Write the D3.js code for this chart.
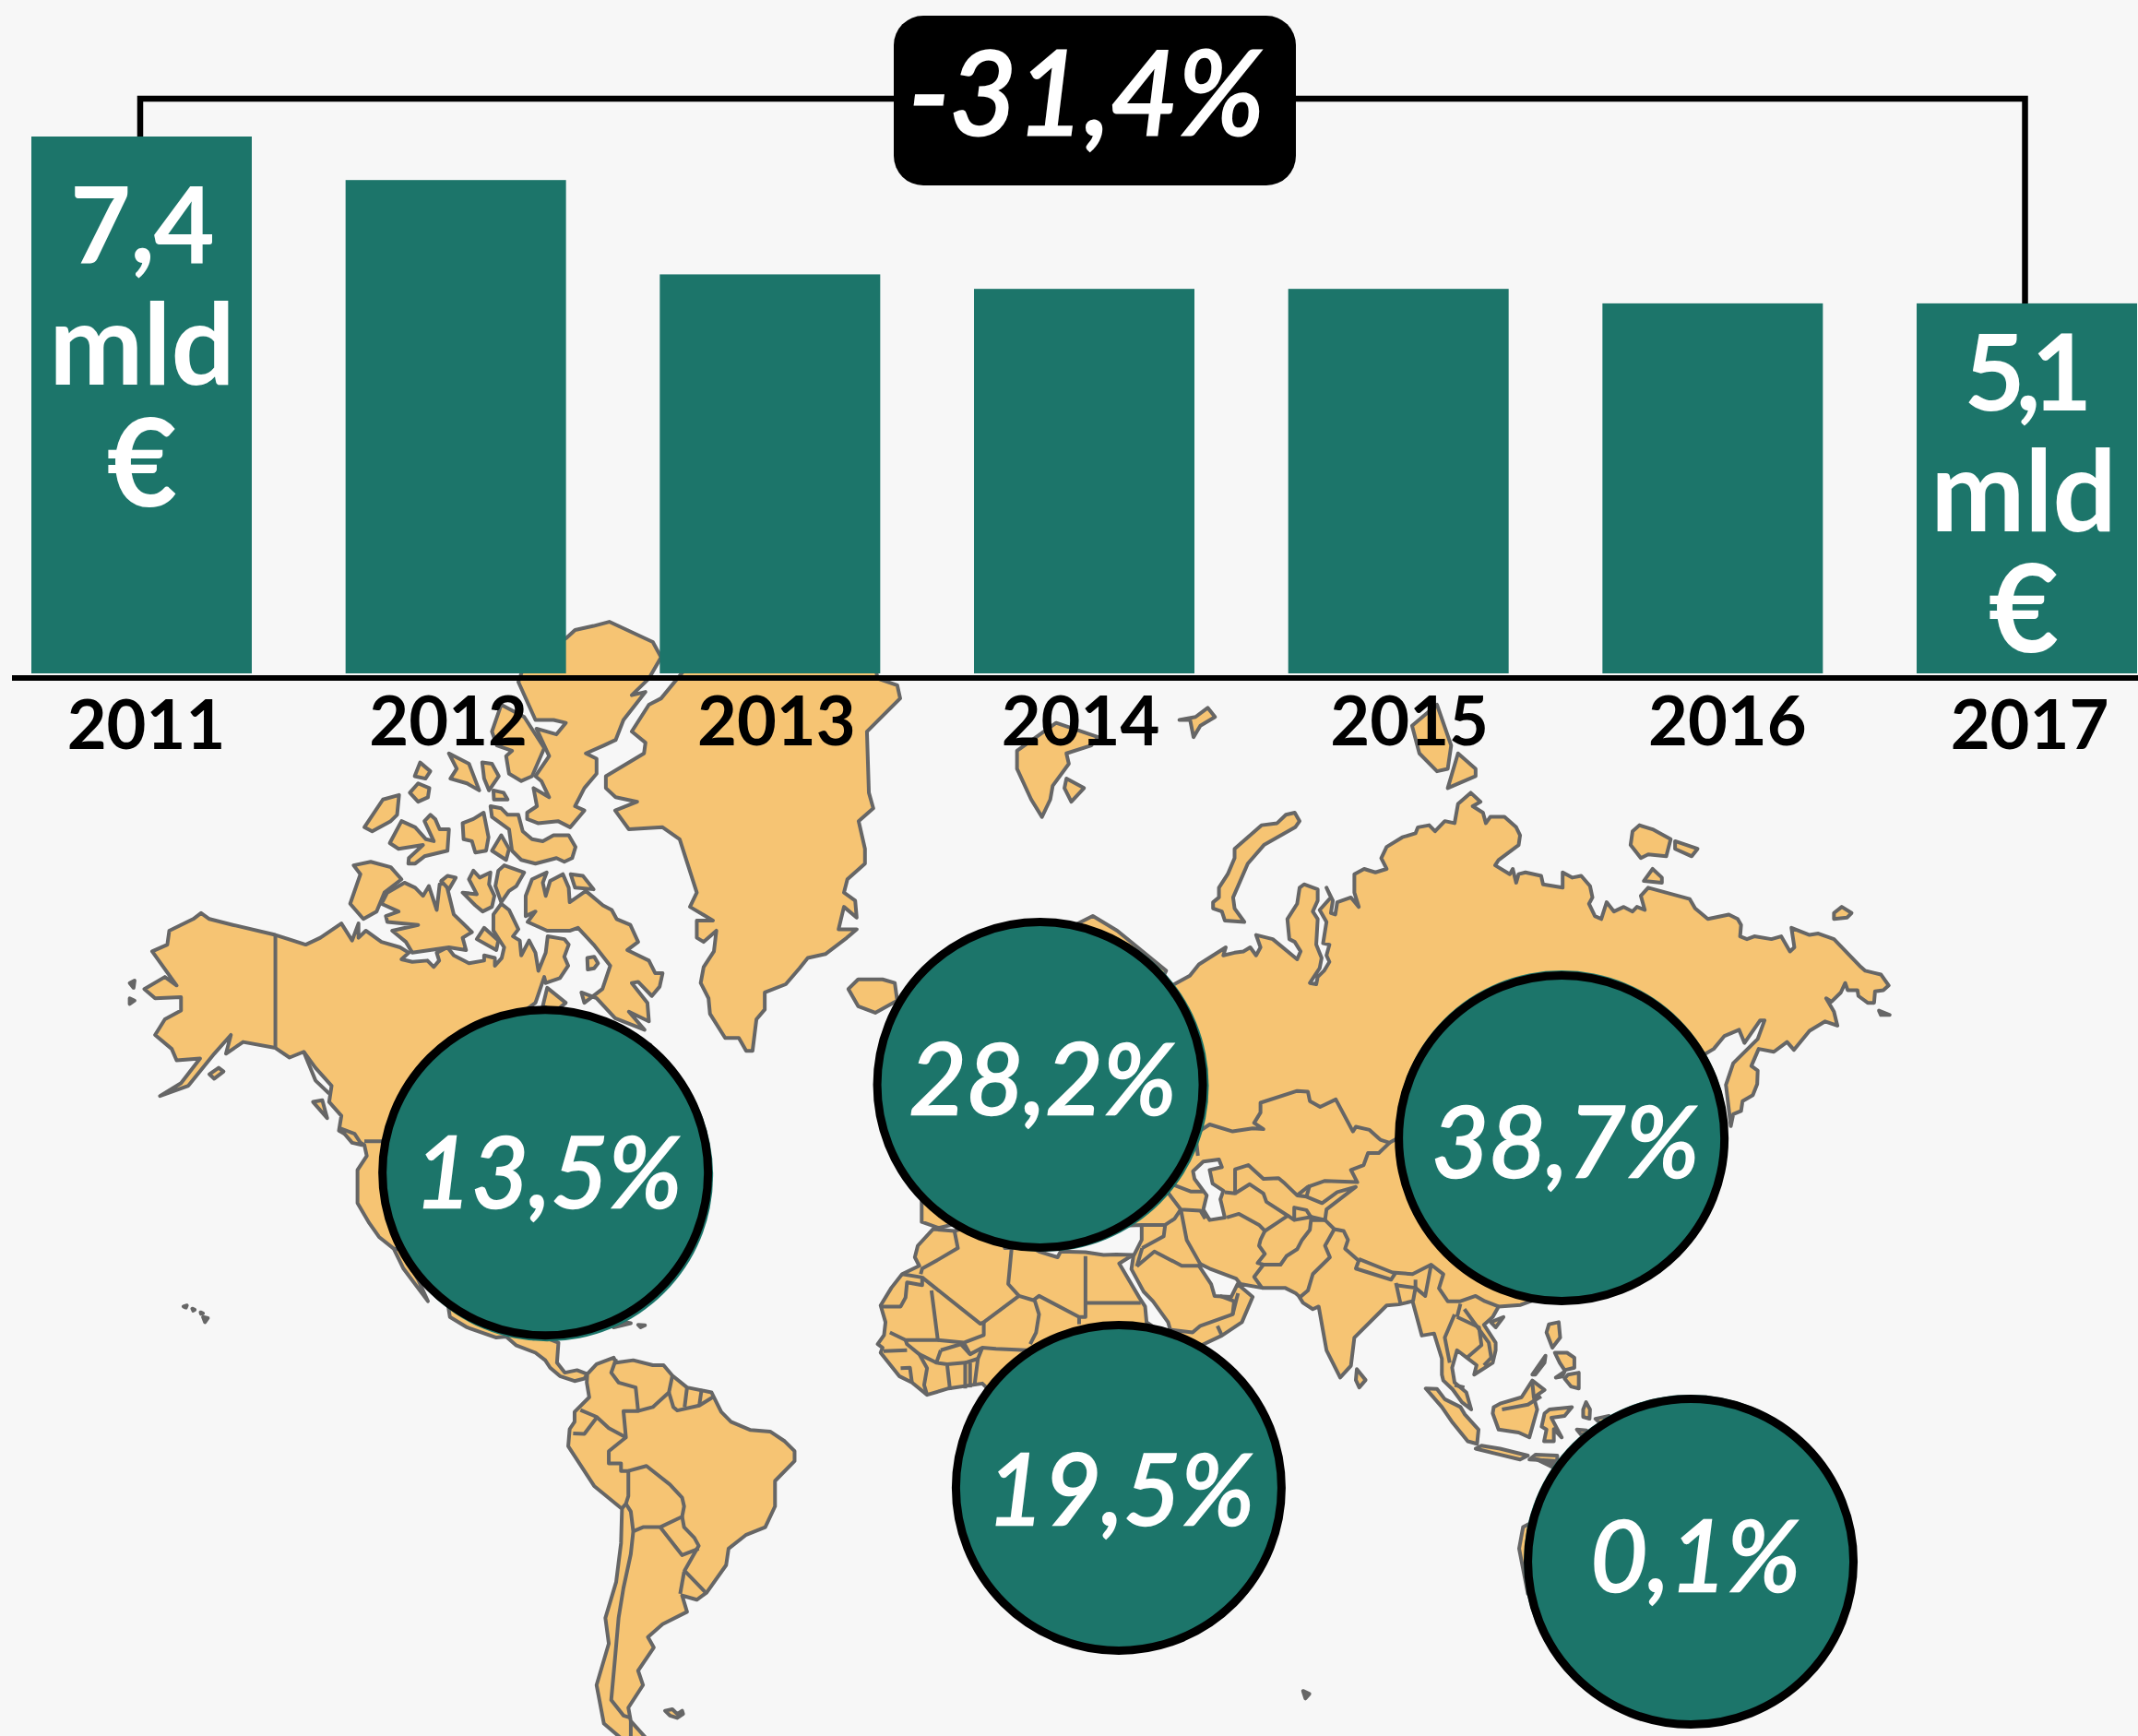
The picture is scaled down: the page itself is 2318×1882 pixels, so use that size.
<!DOCTYPE html>
<html><head><meta charset="utf-8">
<script src="https://cdnjs.cloudflare.com/ajax/libs/d3/7.8.5/d3.min.js"></script>
<style>html,body{margin:0;padding:0;background:#f7f7f7;overflow:hidden}svg{display:block}text{font-family:Lato,sans-serif}</style>
</head><body><svg id="c" width="2318" height="1882"></svg>
<script>
// ---------- chart data ----------
const years=["2011","2012","2013","2014","2015","2016","2017"];
const spending=[7.4,6.8,5.5,5.3,5.3,5.1,5.1];
const firstLabel=["7,4","mld","€"];
const lastLabel=["5,1","mld","€"];
const changeLabel="-31,4%";
const regionShares=["13,5%","28,2%","38,7%","19,5%","0,1%"];
const regionLon=[-86,15.2,121.9,31.3,148.3];
const regionLat=[44.6,56,49.4,-14.36,-28.4];

// ---------- map data: lon/lat ----------
const northAmerica=[[-141.2,69.7],[-149.9,70.4],[-154.7,70.8],[-156.4,71.2],[-158,70.8],[-162.9,70],[-163.3,69],[-166.4,68.5],[-161.4,65.8],[-163.8,66.5],[-168,65.5],[-165.8,64.7],[-160.5,64.8],[-160.5,63.6],[-163.8,62.8],[-165.8,61.3],[-162.4,59.9],[-161.4,58.7],[-156.6,58.9],[-160.5,56.2],[-164.8,54.7],[-159,55.9],[-153.7,59.4],[-150.3,61.3],[-151.3,59.4],[-147.8,60.6],[-141.2,60],[-138.3,59],[-135.4,59.6],[-133,57.9],[-129.7,55.9],[-130.2,54],[-127.7,52.3],[-128.2,50.4],[-123,48.5],[-122.5,47],[-124.4,45],[-124.4,40],[-122,36.8],[-120,34.5],[-117,32.5],[-115,29],[-110,23],[-112,27],[-114.7,31],[-112.5,29],[-109.5,26],[-106,23],[-105.5,20],[-102,18],[-96,16],[-94,16.2],[-92,14.5],[-88,13],[-86,11.5],[-85,10],[-83,8.3],[-80,7.3],[-78,7.8],[-77.4,8.7],[-79.5,9.5],[-82,9],[-83.6,11],[-83.3,15],[-86,16],[-88.5,15.8],[-88,18.5],[-87,21.5],[-90.3,21],[-91,18.7],[-94.5,18.2],[-97.5,21],[-97.5,26],[-97,28],[-94,29.5],[-90,29.2],[-85,29.7],[-83,29],[-81.5,25.5],[-80,25.5],[-81,30.5],[-79,33.2],[-76,35],[-76,37],[-74,40],[-70.5,41.7],[-70.5,43.5],[-67,44.8],[-66,43.6],[-61,45.5],[-64,46.5],[-65,49],[-70,47],[-64,49.5],[-60,50.2],[-56,52],[-60,55.5],[-62,57.5],[-64.5,60.3],[-70,58.8],[-73,62.3],[-78,62.4],[-77.5,60],[-76.5,57],[-79,54.5],[-79,51.5],[-82,52.8],[-82.5,55.1],[-88,56.5],[-92.5,57],[-94.5,59],[-94,61],[-90.5,63.5],[-88,64.3],[-86.2,66.5],[-85.9,66],[-83,66.4],[-81.3,67.4],[-82.1,68.1],[-81.2,69],[-82.1,69.4],[-85.5,69.6],[-85.9,68.4],[-87.4,67],[-88,68.4],[-89.3,69.3],[-90.9,68.2],[-91.2,69.3],[-92.6,69.6],[-91.5,70.1],[-93.4,71.4],[-95,71.8],[-96.6,71.1],[-96.6,70],[-94.4,68.8],[-94.9,68],[-96.3,67.4],[-96.3,68],[-98.5,68.2],[-98.5,67.8],[-101.6,67.6],[-104.7,68.2],[-106,68.8],[-108.2,68.4],[-107.7,67.8],[-108.8,67.3],[-110.1,67.8],[-113.2,67.7],[-115.4,67.9],[-113.9,68.4],[-115.7,68.8],[-119.5,69.2],[-122.7,70],[-124.2,69.5],[-124.2,70.5],[-125.5,69.3],[-127.7,70.5],[-132,69.5],[-135,69]];
const greenland=[[-62.3,81.2],[-64.8,81],[-68.3,80.1],[-65.5,79.7],[-65.8,79.3],[-73.6,78.4],[-73.6,77.9],[-71.6,77.5],[-67.2,77.3],[-71.7,76.9],[-68.9,76],[-62,76.1],[-58.5,75.5],[-55,72.5],[-56.4,71.6],[-51.7,70.7],[-55,70.7],[-55,69.5],[-53.6,69.2],[-51,70],[-51.5,68.5],[-53.6,67.3],[-54.2,66],[-52.6,64.7],[-52.3,63.3],[-49.2,61],[-46.4,61],[-44.9,59.7],[-43.6,59.7],[-42.8,62.8],[-41.1,63.7],[-41.1,65.2],[-36.8,65.9],[-34,67.2],[-32.3,68],[-28.7,68.3],[-24.3,69.5],[-22.3,70.1],[-26,70.1],[-24.9,71.6],[-22.3,70.9],[-22.6,72],[-24.9,72.5],[-24.2,73.3],[-20.6,74.2],[-20.6,75],[-21.9,76.4],[-18.9,77],[-19.8,77.7],[-20.2,80.1],[-13.4,81.2],[-14,81.6],[-18,81.8],[-20,83],[-28,83.4],[-45,82.5],[-56,82.3]];
const southAmerica=[[-77.4,8.7],[-75.5,10.7],[-72,12],[-71.5,11],[-68,11.5],[-64,10.5],[-61.8,10.5],[-60,8.4],[-57,6],[-52,5],[-50,1],[-48,-1],[-44,-2.7],[-40,-3],[-37,-5],[-35,-7],[-35,-9],[-39,-13],[-39,-18],[-41,-22],[-45,-23.5],[-48.5,-26],[-49,-29],[-53,-33.8],[-55,-35],[-58,-34.3],[-57,-37],[-62,-39],[-65,-41],[-63.8,-42.6],[-67,-46],[-66,-48],[-69,-51],[-68.5,-52.7],[-65,-55],[-69,-55.5],[-74,-53],[-75.5,-48],[-73,-42],[-73.7,-38],[-71.5,-32],[-70.5,-25],[-70.3,-18.5],[-76,-14],[-81.3,-6],[-81,-2.5],[-80,-1],[-80,1],[-77,4],[-77.5,7]];
const africa=[[-6.7,35.8],[-2.3,35.5],[3,36.8],[10,37.2],[10.5,34],[15,32],[18.8,31],[19.4,32],[24.5,31.9],[28.2,31.4],[30.8,31.5],[34.2,31.4],[31.4,29.9],[35.5,23.7],[36.7,22],[37,19],[38.5,18],[43,12.5],[44,10.5],[51,12],[47.5,4],[39.5,-4],[40.5,-15],[35,-20],[35.5,-24],[32.5,-26],[30,-31],[25.5,-34],[20,-34.8],[18,-32],[14.5,-22],[12,-16],[13.5,-10],[12,-5],[9,-1],[9.5,4],[6,4.3],[3.4,6.8],[-3.5,5.8],[-7.9,4.5],[-11,7],[-13.6,8.3],[-17.4,13],[-17,14],[-18,14.7],[-16.7,16.5],[-16.4,19],[-17.4,22.2],[-15.2,25.5],[-13,28],[-9.5,29.5],[-10.4,31],[-9.8,33]];
const eurasia=[[5,60],[5,62],[10,64],[14,68],[20,70],[26,71],[31,70],[41,67],[40,66.2],[35,66.5],[33,66.7],[38,64.5],[40,65.3],[45.85,66.6],[47.7,67.5],[53.2,68.8],[52.7,68.2],[55,68.4],[56.8,68.5],[58.2,68.8],[59.4,68.2],[60.3,68.8],[59.4,69.7],[62.8,69.4],[67.8,67.9],[68.5,68.5],[67.3,69.2],[66.2,69.4],[65.8,70.8],[67.8,71.8],[68.3,72.8],[69.2,73],[72,72.7],[72,72],[71,71.3],[72,70.8],[71.7,69],[72.8,68],[72.4,67.2],[70.4,66],[71.7,65.9],[72,66.5],[73.3,67],[74.4,67.7],[73.8,68.2],[74.4,69],[73.1,69.1],[73.8,70.6],[72.4,71.4],[74.7,72.2],[73.8,72.8],[75.1,72],[74.7,71.2],[75.6,71.1],[76,71.9],[78.8,72.2],[80.4,71.6],[79.5,72.5],[79.5,73.6],[81.5,73.9],[83.8,73.7],[86.1,73.9],[85,74.5],[86.1,75.1],[89.3,75.6],[92,75.8],[92.5,76.1],[94.8,76.2],[96,75.9],[98,76.4],[100,76.3],[100.7,77.2],[103.3,77.7],[105.3,77.3],[103.7,77.1],[105.8,76.8],[106.4,76.3],[107.3,76.6],[110.2,76.6],[112.6,76.1],[113.4,75.7],[113.1,75.2],[109,74.4],[108.3,74.1],[111.3,73.6],[111.9,73.9],[112.6,73.1],[113.1,73.6],[114.5,73.7],[117.7,73.5],[118.1,73],[122.1,72.8],[122.1,73.7],[124.1,73.4],[125.9,73.5],[127.7,72.9],[128.2,72.2],[127.5,71.8],[128.7,71],[130,70.8],[131.1,71.9],[132.6,71.3],[134.6,71.6],[136.4,71.3],[137.3,71.6],[138.9,71.4],[138.1,72.3],[139.6,72.8],[148.1,72.1],[149.2,71.5],[151.8,70.8],[156.1,71.1],[157.9,70.8],[158.6,70.4],[158.4,69.6],[159.8,69.4],[161.3,69.6],[164.8,69.4],[166.8,69.6],[168.6,68.5],[169.5,68.8],[168.9,70.2],[172.6,69.7],[174.4,69.8],[177.6,69.4],[183.1,67.3],[184,67],[187.2,66.7],[188.8,65.8],[187.7,65.4],[186,65.3],[185.8,64.3],[184.5,64.3],[182.6,64.9],[182.4,65.4],[180.4,65.4],[179.9,66],[179,65.2],[177.1,64.4],[176,64.7],[177.6,63.5],[178.3,62.2],[175.8,62.6],[172.6,61.7],[169.4,59.8],[168,60.6],[165.3,59.6],[162.2,59.9],[160.7,58.1],[162,57.6],[161.9,56.1],[161,54.8],[158.9,54.1],[158.6,52.9],[157,52.5],[156.5,51],[155.5,56],[157,58.4],[162,60.9],[163.4,62.7],[162.5,62.7],[159.3,60.5],[158.2,61.8],[155.2,61.2],[153,59.9],[150,59],[142,59.2],[135,54.7],[141,53],[140,48],[135,43.5],[130.5,42.5],[127.5,39.7],[129.5,36],[126.5,34.5],[126,37.5],[124.5,40],[121,39],[122,40.7],[118,39],[119,37.3],[122.5,37],[119,35],[122,31],[121.5,28],[117,23.5],[113.5,22.3],[109,22],[107.8,20],[106,18.5],[108.4,15],[108.4,13.5],[107.8,11],[104,8.6],[104.5,10.5],[102.5,12],[100.5,13.5],[99.5,10],[100,7],[102.4,5],[103.4,1.5],[101.5,3],[99.6,5.6],[97.7,7.4],[97.4,8.6],[97.4,11.8],[95.8,16.8],[93.3,16.4],[91.4,23],[88.6,22.4],[86.1,22.2],[79.5,16],[78.8,10.4],[76.6,8],[73.8,13.5],[72.2,22],[71,21.5],[69,22.7],[68.1,24],[67.5,24.5],[65.3,25.5],[60.6,25.5],[56.2,26.2],[55.3,27.2],[49.9,29],[48,29.8],[47.7,29.5],[50.2,26.2],[50.9,24],[54.3,23.8],[55.6,26.2],[58.7,23.8],[56.5,19],[52.4,16.4],[45,13],[43.3,12.7],[41.4,19],[38.3,23],[36.4,24.8],[33.9,28.9],[34.3,31.2],[36,34],[36,36.5],[30,36.3],[26.5,38],[26.5,40],[29,41],[35,42],[41.5,41.5],[37.5,45],[34,44.5],[33,46],[30,46],[28,42],[26,40.8],[23,40],[24,37.7],[22.5,36.5],[19.5,41],[13.5,45.5],[12.3,44.5],[18.5,40],[16,38],[12,42],[8.5,44.3],[3,43],[0,39.5],[-2,36.7],[-5.5,36],[-9,37],[-9,43],[-2,43.5],[-1,46],[-4.5,48.4],[2,51],[5,53],[8.5,54],[8.5,57],[10.5,57.7],[10,55],[12,54.2],[20,54.5],[24,57.5],[23.5,59.3],[30,60],[23,60],[21.5,63],[25,65.5],[22,65.7],[17.5,62],[18.5,60],[16.5,56.5],[13,55.5],[11,59],[7,58]];
const australia=[[114,-22],[113.2,-26],[115,-34],[118,-35],[125,-33],[131,-31.5],[135,-35],[140,-38],[147,-39],[150,-37],[153,-30],[153,-25],[146,-19],[142.5,-11],[140.8,-17.5],[136,-15],[137,-12],[131,-11.5],[126,-14],[122,-18]];
const arcticCanada=[
 [[-112.7,78.4],[-111.6,78.95],[-109.5,78.6],[-110.5,78.3]],
 [[-113.7,77.7],[-112,78.1],[-109.7,77.9],[-110,77.5],[-112,77.3]],
 [[-105.7,79.3],[-101.6,78.9],[-99.5,77.8],[-102,78.1],[-105.4,78.3],[-104.1,78.7]],
 [[-98.9,78.95],[-96.9,78.9],[-95.5,78.4],[-97.5,77.8],[-98.5,78.3]],
 [[-96.6,77.8],[-94.5,77.7],[-93.7,77.4],[-96.5,77.4]],
 [[-119.2,77.4],[-115.9,77.6],[-116.3,76.7],[-117.6,76.4],[-121.4,75.9],[-123,76.1]],
 [[-115.4,76.4],[-112.6,76.1],[-110.4,75.5],[-108.8,75.4],[-110.7,76.4],[-109.5,76.7],[-108.5,76.5],[-107.6,76],[-105.7,76],[-106,74.9],[-110.7,74.6],[-112.6,74.2],[-114,74.2],[-113.9,74.5],[-111,75.2],[-116,75],[-117.8,75.3]],
 [[-102.9,76.3],[-100.7,76.5],[-98.6,76.8],[-97.6,75.6],[-98.1,74.9],[-100.3,74.8],[-101,75.4],[-102.7,75.5]],
 [[-97.2,77.1],[-95,77],[-93.7,76.7],[-91.5,76.7],[-90.6,75.9],[-88.7,75.5],[-86.5,75.4],[-84.3,75.7],[-81.2,75.7],[-79.8,75.1],[-80.5,74.5],[-82.1,74.3],[-83.7,74.5],[-88,74.2],[-90.9,74.4],[-92.8,74.9],[-93.4,76],[-96.9,76.6]],
 [[-95,75.7],[-93.4,75],[-94,74.4],[-96.9,74.9]],
 [[-125.2,74.1],[-121.7,74.3],[-117.6,74],[-115.4,73.3],[-118.9,72.5],[-120.5,71.3],[-123.2,70.8],[-125.9,71.8],[-123.8,73.6]],
 [[-114.8,73.1],[-112.6,72.8],[-111,72.3],[-109.8,72.9],[-108.2,71.4],[-107.6,73],[-106.3,73.1],[-104.7,71.1],[-101,69.9],[-102.9,69.5],[-102.2,68.6],[-105.7,68.8],[-113.2,68.4],[-114.5,69.2],[-117.3,70],[-112,70.4],[-118.3,70.6],[-118.6,71],[-116,71.3],[-119.5,71.8],[-118.3,72.5]],
 [[-107.3,73.2],[-106,73.5],[-104.3,73.4],[-105.7,72.7]],
 [[-100.7,73.8],[-99.4,73.4],[-97.2,73.7],[-97.5,73],[-96.4,72.3],[-96.9,71.6],[-98.8,71.3],[-100.3,71.7],[-102.9,72.5],[-100,72.4],[-101.6,73.3]],
 [[-95.6,73.8],[-94.4,74.1],[-90.3,73.7],[-91.9,72.9],[-93.4,72.6],[-95,71.9],[-96.2,72.9]],
 [[-90,72.3],[-88.7,73.3],[-85.7,73.7],[-86.5,73.1],[-85.9,72.3],[-85,73.2],[-82.4,73.6],[-81.2,72.8],[-81,71.9],[-77.7,72.6],[-74.2,71.7],[-72.4,71.4],[-71.4,70.8],[-68.6,70.4],[-67,69.2],[-69.2,68.6],[-64.8,67.8],[-63.5,66.8],[-62,66.8],[-62.6,65.7],[-64.2,64.9],[-67,66.1],[-68.3,66],[-65.1,64.3],[-64.8,62.6],[-68.9,63.5],[-65.7,61.8],[-71.7,62.9],[-75.5,64.7],[-78.6,65.2],[-78,64.3],[-74.3,65.5],[-72.7,67.4],[-76.1,69],[-79.3,70.2],[-80.9,70],[-85.6,70],[-89.6,70.6],[-88,71.3],[-90,71]],
 [[-77.4,68],[-76,68.1],[-75.2,67.6],[-76,67.2],[-77.3,67.1]],
 [[-98.5,70.2],[-95.6,69.3],[-96,68.6],[-100,69.4]],
 [[-80.8,73.6],[-78.3,73.5],[-76.1,72.7],[-79.9,72.8]],
 [[-85.6,65.6],[-81.8,64.3],[-84,63.5],[-86.5,64]],
 [[-81.7,82.9],[-79.9,83.1],[-76.1,83.2],[-72.9,83.3],[-64,82.8],[-62.3,82.4],[-64.8,81.8],[-68.3,81.3],[-65.5,81.4],[-70,80.5],[-71.6,79.8],[-74,79.6],[-77.7,79.3],[-75.5,79.1],[-75.5,78.5],[-78,77.9],[-79.9,77.1],[-78,76.9],[-80.9,76.1],[-83.4,76.4],[-87.5,76.3],[-89.7,76.5],[-89.7,76.8],[-87.7,77.1],[-88.4,77.9],[-85.2,77.5],[-86.8,78.2],[-88,78.4],[-85.2,79.2],[-87.8,80.2],[-83.7,80],[-81.8,80.4],[-84.3,80.5],[-88,80.5],[-91.5,81.7],[-90,82.3]],
 [[-95,81],[-90.3,80.6],[-86.2,79.5],[-88.7,78.4],[-90.9,78.2],[-93.4,78.5],[-94,79.2],[-92.8,79.4],[-95.9,79.6],[-96.9,80.1]]
];
const arcticEurasia=[
 [[-24,65.5],[-22,64],[-18.5,63.4],[-14,64.5],[-14.5,66],[-17,66.3],[-22,66.3]],
 [[10.5,79.4],[18.5,80.4],[27.1,79.9],[25.7,79.6],[20.6,79.3],[21.1,78.9],[17.8,78],[17.3,77.4],[15.6,76.6],[13.4,77.4],[10.5,78.7]],
 [[20.6,78.3],[24.2,77.9],[21.6,77.3],[20.2,77.9]],
 [[43.7,80.5],[47,80.6],[49.5,80.9],[51,80.6],[48,80.3],[46.6,79.9],[45.9,80.5]],
 [[67.3,76.8],[68.3,76.4],[67.4,76.1],[61,75.2],[57.7,74.2],[54.7,72.2],[55,71.5],[57,70.6],[53,70.7],[52.4,71.3],[50.6,71.5],[50.6,71.9],[51.8,72.2],[51.8,72.8],[53.6,73.6],[55,74.5],[55,75],[60.5,76.2],[63.7,76.3],[65.5,76.7]],
 [[91.3,80.3],[96.4,81],[99.3,79.6],[98.6,78.7],[96.4,78.6],[92.8,79.3]],
 [[100.7,79.3],[104.3,78.7],[104.3,78.4],[98.6,77.9]],
 [[136.4,75.9],[137.8,76.2],[140.5,76],[144.2,75.5],[143.3,74.6],[139.6,74.7],[138.1,74.5],[136,75.2]],
 [[145.1,75.4],[149.7,75],[148.5,74.6],[145.1,75]],
 [[140.5,73.9],[142.4,73.4],[142.4,73.1],[138.7,73.2]],
 [[179.2,71.6],[181.2,71.2],[180.3,70.9],[177.6,70.8],[177.6,71.2]],
 [[186.8,63.6],[189,63.2],[187.2,63.2]],
 [[-171,66],[-170,66.2],[-170.2,65.6]],
 [[-171,64.7],[-170,64.5],[-171,64.2]]
];
const smallIslands=[
 [[-154.7,57.2],[-152.8,57.9],[-151.8,57.5],[-153.7,56.7]],
 [[-128,50.7],[-125,50],[-123.5,48.5],[-125.5,48.8]],
 [[-133.5,54],[-131.6,54.2],[-130.6,52]],
 [[-59,47.6],[-53,46.8],[-53,49],[-56,51.5]],
 [[-160,22],[-159.3,22.2],[-159.5,21.8]],[[-158.2,21.6],[-157.7,21.4],[-158,21.2]],[[-156.5,20.9],[-156,20.7],[-156.4,20.6]],[[-156,20],[-155,19.8],[-155.6,19]],
 [[-67,18.5],[-65.6,18.4],[-66.5,18]],[[-74,19.8],[-68.5,18.8],[-72,18]],
 [[-61.5,-51.4],[-60,-51.2],[-59,-51.8],[-58,-51.4],[-57.8,-51.8],[-59,-52.3],[-60.5,-52]],
 [[69,-48.8],[70.3,-49.2],[69.5,-49.8]],
 [[80,9.7],[81.8,7.5],[80.5,6],[79.8,7.5]],
 [[94.1,5.8],[96.4,5.7],[98,3.6],[101.2,2],[102.1,0.5],[104.9,-2.6],[104.6,-5.5],[102.7,-5],[99.6,-1.2],[97.4,2]],
 [[104.3,-6.5],[105.5,-5.9],[109.3,-6.5],[115,-7.9],[113.4,-8.7],[108,-7.4]],
 [[115.3,-8.7],[116.6,-7.7],[121,-7.9],[121,-9],[119,-8.9]],
 [[116.6,-8.6],[120,-10.2],[120.5,-9.5]],
 [[108,2],[109.3,2.7],[113.7,4],[115.9,7.4],[118.4,5.5],[116.2,4],[116.9,1.5],[115.3,-4.2],[113.1,-3.2],[109,-2.6],[107.8,0.7]],
 [[115.9,8.6],[118.6,12.4],[118.4,11],[116.5,8.6]],
 [[119.3,18.6],[121.3,19],[121.6,16],[120,14],[118.8,17]],
 [[120.5,13],[123,13],[124.5,12],[124.5,10],[122.5,9.5],[121.5,11]],
 [[120.7,8],[122.5,9.2],[122,8.2]],
 [[123.2,8.6],[125.4,9],[125.4,5.8],[123.8,6.2],[122.5,7.8]],
 [[118.4,0.7],[119.4,1.5],[124,2],[122.5,0.2],[119.8,-0.2],[121.9,-4.2],[120.3,-2.5],[120.3,-5],[118.3,-5],[118.8,-2.6],[117.8,-2]],
 [[126.9,3],[127.7,1.5],[127.6,-0.4],[126.3,0],[126.3,1.5]],
 [[125,-2.6],[127,-2.8],[126,-3.8]],
 [[128.8,-0.4],[131.6,0.2],[130,-1.5]],
 [[107.4,19],[110,20],[108.4,18]]
];
const caspian=[[48.6,46.2],[51.8,46.5],[52.4,45.4],[49.9,45],[50.5,43],[52.7,41.9],[52.1,40.6],[53,37.7],[49.9,37.3],[48.6,39],[49.3,41.2],[46.8,43.7],[46.5,44.8]];
const borders=[
 [[-141.2,69.7],[-141.2,60]],[[-135.4,59.6],[-133,56.5],[-130.2,55]],
 [[-123,49],[-95,49],[-89,48]],[[-117,32.5],[-106.5,31.7],[-97,26]],
 [[47.5,47],[47,50],[49.9,51.2],[54.6,50.3],[58.7,50.7],[60.9,50.6],[59,51.4],[60.3,52.7],[60.3,53.9],[67.8,55.3],[70,55.2],[70.4,54.1],[72.5,53.4],[75.7,54.3],[79.2,50.3],[79.8,50.9],[82.6,50.5],[84.8,49.2],[86.7,48.8],[92,50.7]],
 [[86.7,48.8],[84.5,47.4],[82.3,47.4],[81.4,45.7],[78.8,45],[80.1,43.2],[73.5,43.4],[70,42.5],[67.8,41.2],[65.3,43],[64,43.8],[60.9,43.7],[57.8,45.7],[55.1,45.1],[55.1,41.5],[53,41.7]],
 [[55.1,41.5],[58.1,42.9],[60.9,41.5],[61.5,40.2],[65.9,38],[64,37],[61.2,35.5],[60,36.5],[55.9,38.3],[53.4,37.7]],
 [[61.2,35.5],[60.3,34],[60,33],[61.2,31.6],[59.7,30],[60.9,29.7],[64.4,29.7],[65.6,31.2],[67.8,32.4],[68.8,34],[70.4,35.7],[70.7,37.8],[67.2,37.3],[65.9,38]],
 [[60.9,29.7],[59,27.5],[60.6,25.5]],
 [[67.2,37.3],[67.2,39.3],[69.7,38.9],[71,37.3],[73.5,37.3],[73.8,39],[79.8,42.5],[76,41.7],[72.9,40],[69.7,41],[67.8,41.2]],
 [[69.7,41],[70.4,42.8]],[[70.7,37.8],[73.5,37.3],[75.4,35.8],[77.3,35.5],[78.2,34],[77.6,32.5],[80.4,30.4],[79.8,29],[87,27],[88,28.3]],
 [[80.4,30.7],[87.3,28.3],[91.4,28],[95.2,29.7],[97.7,28],[96.8,25.4],[98.6,23],[101.2,23],[104.3,24],[106.2,23],[109,22]],
 [[75.4,35.8],[73.5,33],[74.5,31],[71,28],[70,25],[68.3,23.7]],
 [[88,26.4],[89,22.3]],[[88,26],[92,25.5],[91.5,23]],[[92,25.5],[94,24],[95.2,29.7]],[[92,27],[92,25.5]],
 [[100,20.5],[98,16],[99,11]],[[100.5,20],[105,18],[105.5,14.5],[102.5,12]],[[101.2,22.5],[100.5,20]],[[102,21.5],[107,15],[107.5,12],[106,10.5]],[[100,6.5],[102,6]],
 [[44,39],[45.2,34],[47.4,30.7],[48,29.8]],[[36,36.5],[40.8,36.5],[42.7,37.5],[44,39]],[[40.8,36.5],[40.5,34.6],[36.1,32.6]],
 [[35,29.4],[38.6,32],[44.2,29.5],[46.8,29.5],[47.7,29.5]],[[35,29.4],[36.1,32.6]],
 [[42,17.5],[46.4,17],[48,18.3],[54.6,20.5],[54.9,23],[52,24]],[[51.5,18.3],[52.4,16.4]],[[54.6,20.5],[55.7,24.5]],
 [[40,43.5],[46,41.8],[48.5,41.8]],[[41.5,41.5],[44,39],[48,38.8],[49,37.5]],
 [[109.7,1.5],[115,2.5],[117.7,4.2]],[[115.9,7],[116.2,4]],
 [[-2.3,35.5],[-1.6,32.6],[-5.4,30.7],[-8.9,29],[-9.2,28]],[[-13,28],[-8.9,27.4],[-8.9,26],[-12,26.5],[-12.3,23.7],[-13.3,22],[-17,22]],
 [[-8.9,27.4],[3,18.7],[3.7,19],[10.9,24]],[[-7,25],[-5.7,15.5],[-12.3,15.5],[-15.5,17]],
 [[3.7,19],[3.7,16.5],[-0.4,15],[-5.7,15.5]],
 [[8.2,37],[8,32.6],[9.4,32.6],[8.7,26.2],[10.9,24],[13.8,23.2],[15,24],[23.2,20],[24.5,20],[24.5,31.2]],[[24.5,22.7],[35.8,22.7]],
 [[23.2,20],[23.2,18.6]],[[14,23.5],[15,20.5],[14.4,17],[13.2,14.7]],
 [[-0.4,15],[0.9,12.7],[3.4,14],[6.2,13.8],[12.5,13.5]],[[3.4,14],[2.5,11.8],[1.8,6.4]],
 [[-12.3,15.5],[-12,14.7],[-9.5,12.7],[-7.9,9.9],[-8.5,6.5],[-7.9,4.5]],
 [[-5.1,13.5],[-6,11],[-3.8,10.7],[-3.2,5.5]],[[-3.8,10.7],[-0.1,11],[-0.1,5.8]],[[-0.1,11],[2.5,11.8]],[[0.9,11],[0.9,6]],[[-5.1,13.5],[-1,14.7],[0.9,12.7]],
 [[-16.8,13.3],[-12,13.5]],[[-13.3,9.9],[-11.4,10],[-11,7]],[[-9.5,12.7],[-6,11]],
 [[-71.5,11.8],[-72.5,9],[-71,7],[-67.5,6],[-67,1.2],[-70,1.2],[-69.5,-4.2],[-73,-2.3],[-75.5,0],[-78.8,1.4]],
 [[-75.5,-0.2],[-78,-3.5],[-80.3,-3.4]],[[-69.5,-4.2],[-73,-7],[-73,-9.5],[-70.5,-9.5],[-70.5,-11],[-69,-11],[-69,-16],[-69.5,-17.5],[-70.3,-18.4]],
 [[-69.5,-17.5],[-68.5,-19],[-68,-22.8],[-68.5,-27],[-70,-33],[-71,-38],[-71.7,-44],[-72.5,-50],[-70,-52],[-68.5,-52.3]],[[-68.5,-52.7],[-68.5,-55]],
 [[-69,-11],[-65.3,-10],[-60.5,-13.7],[-58,-16.3],[-57.6,-18],[-58,-20],[-62.5,-22],[-66,-22],[-68,-22.8]],
 [[-58,-20],[-57.6,-22],[-55.5,-24],[-54.6,-25.5],[-57.5,-30],[-53.3,-33.7]],[[-62.5,-22],[-58,-27.2],[-54.6,-26]],[[-57.6,-30.2],[-58.4,-34]],
 [[-67,1.2],[-64,2],[-60.7,5],[-60,8.4]],[[-60.7,5],[-59.8,2],[-59,1.3],[-54.5,2.3],[-51.6,4.1]],[[-57,6],[-57.5,2]],[[-54,5.7],[-54.5,2.3]]
];

const W=2318,H=1882,bg="#f7f7f7",teal="#1c756a",land="#f6c473",edge="#666666";
const svg=d3.select("#c");
svg.append("rect").attr("width",W).attr("height",H).attr("fill",bg);

// ---------- map ----------
const projection=d3.geoMercator().rotate([-9,0]).scale(303.7).translate([1094.7,1536]);
const closed=d3.line().curve(d3.curveLinearClosed);
const open=d3.line();
const ring=c=>closed(c.map(projection));
const mapG=svg.append("g").attr("stroke",edge).attr("stroke-width",4).attr("stroke-linejoin","round");
mapG.selectAll("path.land").data([northAmerica,greenland,southAmerica,africa,eurasia,australia,...arcticCanada,...arcticEurasia,...smallIslands]).join("path")
  .attr("class","land").attr("d",ring).attr("fill",land);
mapG.append("path").attr("d",ring(caspian)).attr("fill",bg);
mapG.selectAll("path.border").data(borders).join("path").attr("class","border")
  .attr("d",c=>open(c.map(projection))).attr("fill","none");

// ---------- bars ----------
const x=d3.scaleBand().domain(years).range([34,2317]).paddingInner(0.2985).paddingOuter(0);
const y=d3.scaleLinear().domain([0,7.4]).range([730,148]);
svg.selectAll("rect.bar").data(years).join("rect").attr("class","bar")
  .attr("x",d=>x(d)).attr("width",x.bandwidth())
  .attr("y",(d,i)=>y(spending[i])).attr("height",(d,i)=>y(0)-y(spending[i])).attr("fill",teal);
svg.append("line").attr("x1",13).attr("x2",W).attr("y1",735).attr("y2",735).attr("stroke","#000").attr("stroke-width",6);

// axis labels
const nudgeX=[5,-8,7,-4,12,16,3], nudgeY=[812,808,808,808,808,808,812];
svg.selectAll("text.year").data(years).join("text").attr("class","year")
  .attr("x",(d,i)=>x(d)+x.bandwidth()/2+nudgeX[i]).attr("y",(d,i)=>nudgeY[i])
  .attr("text-anchor","middle").attr("font-size",74).attr("font-weight",700).attr("fill","#000").text(d=>d);

// bracket
const xa=x(years[0])+x.bandwidth()/2-1.5, xb=x(years[6])+x.bandwidth()/2-2;
svg.append("path").attr("d",open([[xa,y(spending[0])],[xa,107],[xb,107],[xb,y(spending[6])]]))
  .attr("fill","none").attr("stroke","#000").attr("stroke-width",6.5);
svg.append("rect").attr("x",969).attr("y",17).attr("width",436).attr("height",184).attr("rx",32).attr("fill","#000");
svg.append("text").attr("x",1178).attr("y",146).attr("text-anchor","middle").attr("font-size",126)
  .attr("font-style","italic").attr("font-weight",400).attr("fill","#fff").attr("stroke","#fff").attr("stroke-width",3).text(changeLabel);

// bar labels
const lineSize=[114,122,132], firstSpacing=[-1,0,0], lastSpacing=[-10,0,0];
firstLabel.forEach((t,i)=>svg.append("text").attr("x",154).attr("y",285+i*132).attr("text-anchor","middle")
  .attr("font-size",lineSize[i]).attr("letter-spacing",firstSpacing[i]).attr("font-weight",700).attr("fill","#fff").text(t));
lastLabel.forEach((t,i)=>svg.append("text").attr("x",2194).attr("y",445+i*131).attr("text-anchor","middle")
  .attr("font-size",lineSize[i]).attr("letter-spacing",lastSpacing[i]).attr("font-weight",700).attr("fill","#fff").text(t));

// ---------- bubbles ----------
const textDx=[3,3,4,2,5], textBase=[38,32,42,40,32];
const tealDx=[2,3,0,0,-1], tealDy=[3,1,-2,0,-1];
regionShares.forEach((t,i)=>{
  const p=projection([regionLon[i],regionLat[i]]);
  const g=svg.append("g");
  g.append("circle").attr("cx",p[0]+tealDx[i]).attr("cy",p[1]+tealDy[i]).attr("r",180).attr("fill",teal);
  g.append("circle").attr("cx",p[0]).attr("cy",p[1]).attr("r",176.5).attr("fill","none").attr("stroke","#000").attr("stroke-width",9);
  g.append("text").attr("x",p[0]+textDx[i]).attr("y",p[1]+textBase[i]).attr("text-anchor","middle")
    .attr("font-size",107).attr("font-style","italic").attr("font-weight",400).attr("fill","#fff").attr("stroke","#fff").attr("stroke-width",2.5).text(t);
});
</script></body></html>
